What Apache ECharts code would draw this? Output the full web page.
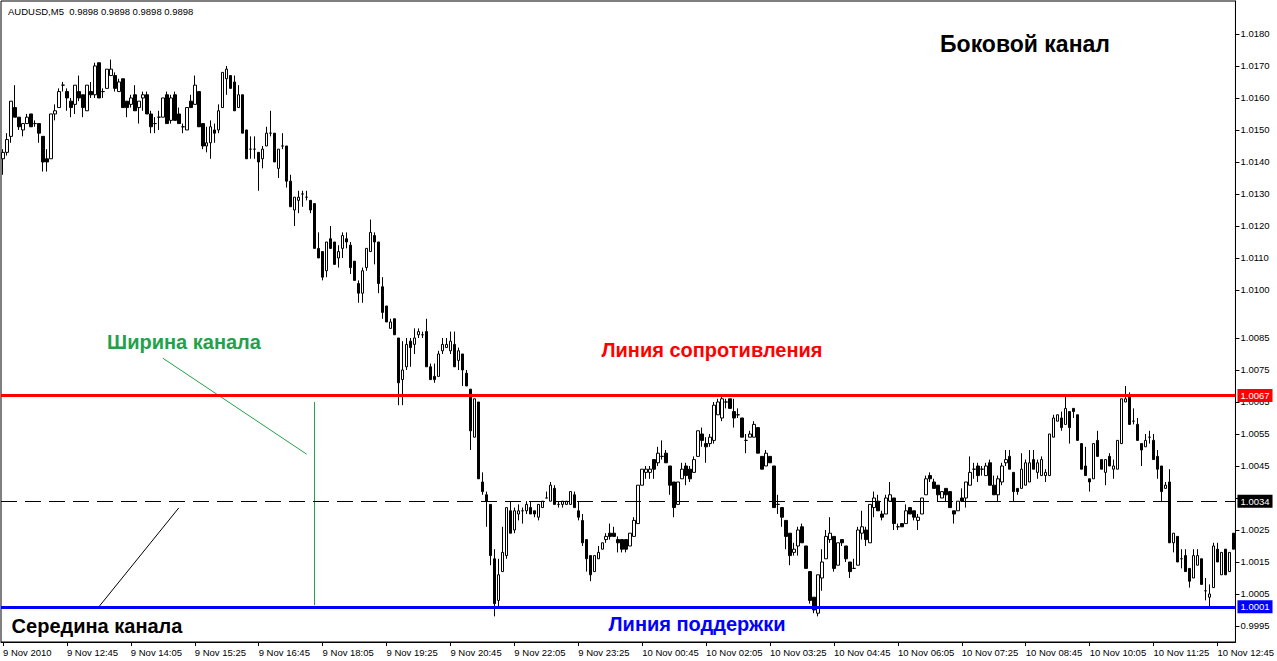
<!DOCTYPE html>
<html>
<head>
<meta charset="utf-8">
<script src="https://cdn.jsdelivr.net/npm/echarts@6/dist/echarts.min.js"></script>
<style>
html,body{margin:0;padding:0;background:#fff;}
#chart{width:1277px;height:661px;}
</style>
</head>
<body>
<div id="chart"></div>
<script>
// ---- data (AUDUSD M5, 9 Nov 2010 11:25 .. 10 Nov 2010 13:05) ----
const open = [
1.0141,1.0143,1.0148,1.0157,1.0154,1.0150,1.0152,1.0155,1.0152,1.0152,
1.0148,1.0141,1.0141,1.0155,1.0157,1.0164,1.0162,1.0159,1.0158,1.0162,
1.0161,1.0156,1.0162,1.0161,1.0171,1.0162,1.0163,1.0167,1.0167,1.0162,
1.0166,1.0159,1.0158,1.0161,1.0157,1.0160,1.0161,1.0155,1.0152,1.0154,
1.0154,1.0161,1.0153,1.0161,1.0155,1.0151,1.0150,1.0159,1.0158,1.0162,
1.0152,1.0145,1.0146,1.0150,1.0150,1.0157,1.0166,1.0167,1.0165,1.0157,
1.0161,1.0150,1.0144,1.0144,1.0143,1.0141,1.0145,1.0149,1.0149,1.0138,
1.0145,1.0145,1.0134,1.0125,1.0128,1.0130,1.0129,1.0128,1.0127,1.0113,
1.0112,1.0106,1.0116,1.0115,1.0110,1.0113,1.0116,1.0114,1.0109,1.0102,
1.0099,1.0107,1.0112,1.0117,1.0115,1.0101,1.0095,1.0088,1.0091,1.0085,
1.0072,1.0076,1.0084,1.0083,1.0086,1.0086,1.0087,1.0076,1.0073,1.0073,
1.0081,1.0082,1.0081,1.0083,1.0078,1.0080,1.0074,1.0069,1.0054,1.0065,
1.0040,1.0036,1.0033,1.0016,1.0003,1.0012,1.0017,1.0031,1.0025,1.0030,
1.0031,1.0031,1.0032,1.0031,1.0029,1.0032,1.0035,1.0034,1.0038,1.0033,
1.0033,1.0033,1.0033,1.0036,1.0031,1.0028,1.0022,1.0017,1.0012,1.0016,
1.0019,1.0022,1.0024,1.0024,1.0022,1.0022,1.0022,1.0020,1.0023,1.0027,
1.0039,1.0043,1.0043,1.0047,1.0046,1.0048,1.0049,1.0045,1.0040,1.0033,
1.0041,1.0045,1.0044,1.0043,1.0048,1.0055,1.0052,1.0052,1.0053,1.0061,
1.0060,1.0065,1.0066,1.0062,1.0061,1.0060,1.0053,1.0054,1.0054,1.0057,
1.0048,1.0045,1.0048,1.0045,1.0033,1.0032,1.0028,1.0024,1.0018,1.0020,
1.0026,1.0020,1.0012,1.0004,0.9999,1.0010,1.0016,1.0022,1.0023,1.0014,
1.0022,1.0020,1.0015,1.0013,1.0014,1.0024,1.0025,1.0021,1.0032,1.0034,
1.0030,1.0030,1.0034,1.0035,1.0026,1.0027,1.0027,1.0032,1.0031,1.0028,
1.0030,1.0036,1.0042,1.0040,1.0039,1.0035,1.0038,1.0037,1.0031,1.0031,
1.0035,1.0035,1.0039,1.0044,1.0045,1.0044,1.0042,1.0046,1.0039,1.0036,
1.0040,1.0046,1.0048,1.0043,1.0038,1.0038,1.0039,1.0040,1.0047,1.0043,
1.0042,1.0042,1.0042,1.0054,1.0059,1.0060,1.0058,1.0062,1.0063,1.0061,
1.0052,1.0045,1.0041,1.0041,1.0053,1.0047,1.0043,1.0048,1.0044,1.0044,
1.0052,1.0065,1.0067,1.0059,1.0058,1.0052,1.0051,1.0054,1.0053,1.0048,
1.0045,1.0038,1.0040,1.0021,1.0023,1.0016,1.0017,1.0013,1.0010,1.0014,
1.0016,1.0006,1.0004,1.0007,1.0019,1.0011,1.0019,1.0012,1.0024
];
const close = [
1.0143,1.0147,1.0159,1.0154,1.0151,1.0152,1.0154,1.0151,1.0152,1.0149,
1.0140,1.0140,1.0155,1.0156,1.0162,1.0164,1.0160,1.0157,1.0164,1.0160,
1.0157,1.0164,1.0161,1.0170,1.0160,1.0162,1.0169,1.0169,1.0163,1.0165,
1.0157,1.0157,1.0160,1.0156,1.0159,1.0161,1.0155,1.0151,1.0152,1.0154,
1.0160,1.0152,1.0160,1.0153,1.0152,1.0151,1.0157,1.0157,1.0164,1.0151,
1.0145,1.0146,1.0151,1.0149,1.0156,1.0168,1.0169,1.0163,1.0156,1.0161,
1.0149,1.0141,1.0144,1.0144,1.0140,1.0144,1.0149,1.0149,1.0140,1.0144,
1.0145,1.0134,1.0126,1.0129,1.0129,1.0130,1.0129,1.0125,1.0113,1.0110,
1.0104,1.0115,1.0113,1.0108,1.0112,1.0117,1.0115,1.0107,1.0103,1.0099,
1.0106,1.0113,1.0118,1.0115,1.0102,1.0093,1.0090,1.0090,1.0086,1.0071,
1.0075,1.0083,1.0082,1.0085,1.0087,1.0086,1.0076,1.0072,1.0072,1.0080,
1.0083,1.0083,1.0084,1.0076,1.0081,1.0075,1.0070,1.0056,1.0066,1.0041,
1.0037,1.0034,1.0017,1.0002,1.0011,1.0018,1.0032,1.0024,1.0031,1.0031,
1.0031,1.0033,1.0030,1.0030,1.0033,1.0034,1.0035,1.0039,1.0033,1.0033,
1.0034,1.0034,1.0037,1.0032,1.0029,1.0021,1.0016,1.0011,1.0017,1.0018,
1.0021,1.0023,1.0023,1.0023,1.0021,1.0019,1.0019,1.0024,1.0028,1.0039,
1.0044,1.0044,1.0044,1.0044,1.0049,1.0048,1.0046,1.0039,1.0032,1.0040,
1.0044,1.0042,1.0041,1.0047,1.0056,1.0053,1.0051,1.0054,1.0064,1.0065,
1.0066,1.0065,1.0063,1.0060,1.0061,1.0054,1.0053,1.0055,1.0058,1.0049,
1.0044,1.0049,1.0046,1.0032,1.0033,1.0029,1.0023,1.0017,1.0019,1.0025,
1.0021,1.0013,1.0003,1.0000,1.0011,1.0015,1.0023,1.0024,1.0013,1.0021,
1.0021,1.0016,1.0012,1.0013,1.0025,1.0026,1.0022,1.0033,1.0035,1.0031,
1.0029,1.0035,1.0036,1.0027,1.0026,1.0026,1.0031,1.0030,1.0029,1.0029,
1.0035,1.0041,1.0041,1.0038,1.0036,1.0037,1.0036,1.0032,1.0030,1.0034,
1.0034,1.0040,1.0043,1.0044,1.0042,1.0044,1.0045,1.0039,1.0036,1.0041,
1.0045,1.0047,1.0044,1.0037,1.0037,1.0044,1.0046,1.0046,1.0044,1.0046,
1.0047,1.0043,1.0055,1.0060,1.0061,1.0057,1.0063,1.0057,1.0062,1.0053,
1.0044,1.0042,1.0040,1.0052,1.0048,1.0044,1.0047,1.0045,1.0045,1.0053,
1.0066,1.0066,1.0058,1.0059,1.0053,1.0050,1.0053,1.0054,1.0047,1.0044,
1.0037,1.0039,1.0021,1.0024,1.0015,1.0016,1.0012,1.0009,1.0017,1.0017,
1.0008,1.0006,1.0005,1.0020,1.0015,1.0018,1.0011,1.0018,1.0019
];
const low = [
1.0136,1.0142,1.0146,1.0154,1.0150,1.0148,1.0152,1.0151,1.0151,1.0146,
1.0137,1.0137,1.0141,1.0153,1.0157,1.0162,1.0156,1.0154,1.0155,1.0159,
1.0154,1.0156,1.0160,1.0160,1.0160,1.0160,1.0163,1.0167,1.0162,1.0162,
1.0157,1.0154,1.0157,1.0156,1.0152,1.0156,1.0155,1.0149,1.0149,1.0150,
1.0154,1.0152,1.0152,1.0153,1.0152,1.0149,1.0150,1.0157,1.0158,1.0151,
1.0144,1.0143,1.0141,1.0146,1.0149,1.0157,1.0161,1.0163,1.0156,1.0157,
1.0149,1.0141,1.0141,1.0141,1.0131,1.0138,1.0145,1.0148,1.0140,1.0135,
1.0144,1.0132,1.0126,1.0120,1.0124,1.0126,1.0128,1.0124,1.0113,1.0110,
1.0103,1.0104,1.0113,1.0108,1.0107,1.0110,1.0113,1.0105,1.0103,1.0096,
1.0096,1.0106,1.0112,1.0108,1.0099,1.0091,1.0090,1.0088,1.0086,1.0064,
1.0064,1.0075,1.0076,1.0080,1.0085,1.0085,1.0076,1.0072,1.0071,1.0073,
1.0080,1.0082,1.0080,1.0076,1.0075,1.0070,1.0070,1.0050,1.0054,1.0041,
1.0036,1.0026,1.0014,0.9998,1.0001,1.0012,1.0016,1.0024,1.0024,1.0028,
1.0027,1.0030,1.0030,1.0029,1.0028,1.0032,1.0035,1.0034,1.0033,1.0032,
1.0032,1.0033,1.0033,1.0032,1.0028,1.0020,1.0012,1.0009,1.0012,1.0016,
1.0019,1.0021,1.0022,1.0023,1.0018,1.0018,1.0018,1.0020,1.0023,1.0027,
1.0039,1.0041,1.0041,1.0041,1.0045,1.0047,1.0046,1.0036,1.0029,1.0033,
1.0041,1.0039,1.0040,1.0043,1.0048,1.0051,1.0046,1.0051,1.0052,1.0061,
1.0059,1.0063,1.0063,1.0057,1.0060,1.0054,1.0049,1.0054,1.0054,1.0049,
1.0044,1.0045,1.0046,1.0032,1.0030,1.0026,1.0019,1.0014,1.0017,1.0017,
1.0021,1.0013,1.0002,0.9999,0.9998,1.0006,1.0016,1.0021,1.0012,1.0014,
1.0020,1.0015,1.0010,1.0013,1.0014,1.0022,1.0020,1.0021,1.0029,1.0031,
1.0028,1.0030,1.0034,1.0025,1.0025,1.0026,1.0027,1.0030,1.0028,1.0025,
1.0030,1.0036,1.0040,1.0038,1.0034,1.0035,1.0034,1.0032,1.0027,1.0031,
1.0034,1.0032,1.0039,1.0041,1.0040,1.0042,1.0042,1.0039,1.0036,1.0034,
1.0039,1.0045,1.0044,1.0034,1.0036,1.0038,1.0039,1.0040,1.0044,1.0041,
1.0042,1.0040,1.0042,1.0054,1.0059,1.0056,1.0058,1.0052,1.0060,1.0053,
1.0044,1.0042,1.0037,1.0041,1.0048,1.0044,1.0039,1.0045,1.0041,1.0044,
1.0052,1.0065,1.0058,1.0058,1.0053,1.0045,1.0051,1.0052,1.0047,1.0041,
1.0034,1.0038,1.0021,1.0018,1.0015,1.0013,1.0012,1.0007,1.0010,1.0014,
1.0008,1.0003,1.0001,1.0007,1.0015,1.0011,1.0011,1.0012,1.0019
];
const high = [
1.0144,1.0149,1.0159,1.0164,1.0154,1.0152,1.0155,1.0155,1.0153,1.0152,
1.0148,1.0144,1.0155,1.0158,1.0163,1.0165,1.0163,1.0160,1.0164,1.0167,
1.0161,1.0164,1.0165,1.0171,1.0171,1.0163,1.0169,1.0172,1.0168,1.0166,
1.0166,1.0159,1.0161,1.0164,1.0159,1.0162,1.0162,1.0156,1.0154,1.0156,
1.0160,1.0162,1.0161,1.0162,1.0157,1.0152,1.0157,1.0161,1.0167,1.0162,
1.0152,1.0151,1.0153,1.0152,1.0158,1.0168,1.0170,1.0167,1.0167,1.0164,
1.0161,1.0150,1.0148,1.0148,1.0143,1.0145,1.0151,1.0156,1.0149,1.0144,
1.0149,1.0145,1.0136,1.0129,1.0131,1.0131,1.0131,1.0128,1.0127,1.0118,
1.0112,1.0115,1.0120,1.0115,1.0114,1.0118,1.0118,1.0115,1.0109,1.0103,
1.0107,1.0113,1.0122,1.0118,1.0115,1.0104,1.0095,1.0091,1.0091,1.0085,
1.0084,1.0085,1.0085,1.0088,1.0088,1.0087,1.0091,1.0077,1.0077,1.0081,
1.0085,1.0085,1.0087,1.0087,1.0082,1.0080,1.0075,1.0069,1.0066,1.0065,
1.0043,1.0037,1.0033,1.0019,1.0016,1.0026,1.0032,1.0034,1.0032,1.0033,
1.0032,1.0034,1.0034,1.0031,1.0033,1.0034,1.0037,1.0040,1.0039,1.0034,
1.0034,1.0034,1.0037,1.0037,1.0034,1.0030,1.0022,1.0017,1.0017,1.0020,
1.0021,1.0024,1.0027,1.0026,1.0023,1.0022,1.0022,1.0024,1.0029,1.0039,
1.0044,1.0045,1.0045,1.0047,1.0051,1.0053,1.0050,1.0045,1.0040,1.0040,
1.0046,1.0046,1.0045,1.0048,1.0056,1.0057,1.0054,1.0055,1.0065,1.0066,
1.0067,1.0066,1.0066,1.0066,1.0063,1.0060,1.0055,1.0056,1.0059,1.0057,
1.0048,1.0050,1.0048,1.0045,1.0036,1.0032,1.0028,1.0024,1.0021,1.0026,
1.0027,1.0020,1.0012,1.0004,1.0011,1.0019,1.0025,1.0029,1.0023,1.0021,
1.0022,1.0020,1.0015,1.0016,1.0026,1.0031,1.0026,1.0033,1.0037,1.0036,
1.0031,1.0036,1.0040,1.0035,1.0027,1.0027,1.0033,1.0032,1.0031,1.0030,
1.0035,1.0042,1.0043,1.0041,1.0039,1.0037,1.0038,1.0037,1.0031,1.0034,
1.0038,1.0040,1.0048,1.0046,1.0046,1.0045,1.0046,1.0047,1.0042,1.0042,
1.0046,1.0050,1.0050,1.0043,1.0038,1.0049,1.0047,1.0050,1.0050,1.0047,
1.0048,1.0044,1.0055,1.0061,1.0061,1.0062,1.0067,1.0062,1.0063,1.0061,
1.0052,1.0051,1.0041,1.0052,1.0056,1.0047,1.0047,1.0049,1.0047,1.0053,
1.0066,1.0070,1.0068,1.0063,1.0060,1.0052,1.0055,1.0056,1.0055,1.0050,
1.0045,1.0040,1.0044,1.0024,1.0023,1.0019,1.0019,1.0013,1.0019,1.0019,
1.0016,1.0010,1.0008,1.0021,1.0021,1.0018,1.0019,1.0018,1.0024
];

// tick labels
const xTickLabels = ['9 Nov 2010','9 Nov 12:45','9 Nov 14:05','9 Nov 15:25','9 Nov 16:45','9 Nov 18:05',
  '9 Nov 19:25','9 Nov 20:45','9 Nov 22:05','9 Nov 23:25','10 Nov 00:45','10 Nov 02:05','10 Nov 03:25',
  '10 Nov 04:45','10 Nov 06:05','10 Nov 07:25','10 Nov 08:45','10 Nov 10:05','10 Nov 11:25','10 Nov 12:45'];
const xTickEvery = 16;
const yTickValues = [1.0180,1.0170,1.0160,1.0150,1.0140,1.0130,1.0120,1.0110,1.0100,
  1.0085,1.0075,1.0065,1.0055,1.0045,1.0035,1.0025,1.0015,1.0005,0.9995];

// channel levels
const resistance = 1.0067;
const middle = 1.0034;
const support = 1.0001;

// annotation pointer lines [categoryIndex, price]
const widthPointer = [[40, 1.00787], [76, 1.00487]];
const widthBar = [[78, 1.0065], [78, 1.00015]];
const middlePointer = [[24, 1.0001], [44, 1.00319]];

// categories: 5-minute bars starting 9 Nov 11:25
const categories = [];
for (let k = 0; k < open.length; k++) {
  const t = 11 * 60 + 25 + 5 * k;
  const day = 9 + Math.floor(t / 1440);
  const m = t % 1440;
  const hh = String(Math.floor(m / 60)).padStart(2, '0');
  const mm = String(m % 60).padStart(2, '0');
  categories.push(day + ' Nov ' + hh + ':' + mm);
}
const ohlc = open.map((o, i) => [o, close[i], low[i], high[i]]);

const FONT = '"Liberation Sans", Arial, sans-serif';
const GREEN = '#21a24a';

const chart = echarts.init(document.getElementById('chart'), null, {renderer: 'svg'});

function levelSeries(name, val, color, width, type) {
  return {
    name: name,
    type: 'line',
    data: [],
    silent: true,
    markLine: {
      silent: true, symbol: ['none', 'none'], animation: false, precision: 5,
      lineStyle: {color: color, width: width, type: type},
      label: {
        show: true, position: 'end', distance: 2,
        formatter: () => val.toFixed(4),
        backgroundColor: color, color: '#fff',
        padding: [2, 3, 1, 3], fontSize: 9.5, fontFamily: FONT
      },
      data: [{yAxis: val}]
    }
  };
}
function pointer(pts, color) {
  return [
    {coord: pts[0], lineStyle: {color: color, width: 1, type: 'solid'}, label: {show: false}},
    {coord: pts[1]}
  ];
}

chart.setOption({
  animation: false,
  backgroundColor: '#ffffff',
  grid: {left: 1, top: 1, width: 1235, height: 641, show: true, borderColor: '#000', borderWidth: 1, backgroundColor: '#fff'},
  xAxis: {
    type: 'category',
    data: categories,
    boundaryGap: true,
    axisLine: {show: true, lineStyle: {color: '#000', width: 1}},
    axisTick: {show: true, alignWithLabel: true, interval: xTickEvery - 1, length: 4, lineStyle: {color: '#000'}},
    axisLabel: {
      interval: xTickEvery - 1, align: 'left', margin: 5,
      color: '#000', fontSize: 9.5, fontFamily: FONT,
      formatter: (v, idx) => xTickLabels[Math.round(idx / xTickEvery)] || v
    },
    splitLine: {show: false}
  },
  yAxis: {
    type: 'value',
    position: 'right',
    min: 0.99900, max: 1.01903,
    axisLine: {show: true, lineStyle: {color: '#000', width: 1}},
    axisTick: {show: true, length: 4, customValues: yTickValues, lineStyle: {color: '#000'}},
    axisLabel: {customValues: yTickValues, color: '#000', fontSize: 9.5, fontFamily: FONT, margin: 5,
      formatter: v => v.toFixed(4)},
    splitLine: {show: false}
  },
  series: [
    {
      type: 'candlestick',
      data: ohlc,
      barWidth: 3,
      itemStyle: {color: '#ffffff', color0: '#000000', borderColor: '#000000', borderColor0: '#000000', borderWidth: 1},
      markLine: {
        silent: true, symbol: ['none', 'none'], animation: false, precision: 5,
        data: [
          pointer(widthPointer, GREEN),
          pointer(widthBar, GREEN),
          pointer(middlePointer, '#000000')
        ]
      }
    },
    levelSeries('resistance', resistance, '#ff0000', 3, 'solid'),
    levelSeries('middle', middle, '#000000', 1, [16, 8]),
    levelSeries('support', support, '#0000ff', 3, 'solid')
  ],
  graphic: [
    {type: 'text', x: 8, y: 11, style: {text: 'AUDUSD,M5  0.9898 0.9898 0.9898 0.9898', fill: '#000', font: '9.5px ' + FONT, align: 'left', verticalAlign: 'middle'}},
    {type: 'text', x: 1025, y: 44, style: {text: 'Боковой канал', fill: '#000', font: 'bold 23px ' + FONT, align: 'center', verticalAlign: 'middle'}},
    {type: 'text', x: 184, y: 342, style: {text: 'Ширина канала', fill: GREEN, font: 'bold 20px ' + FONT, align: 'center', verticalAlign: 'middle'}},
    {type: 'text', x: 712, y: 350, style: {text: 'Линия сопротивления', fill: '#ff0000', font: 'bold 20px ' + FONT, align: 'center', verticalAlign: 'middle'}},
    {type: 'text', x: 697, y: 624, style: {text: 'Линия поддержки', fill: '#0000ff', font: 'bold 20px ' + FONT, align: 'center', verticalAlign: 'middle'}},
    {type: 'text', x: 97, y: 626, style: {text: 'Середина канала', fill: '#000', font: 'bold 20px ' + FONT, align: 'center', verticalAlign: 'middle'}}
  ]
});
</script>
</body>
</html>
